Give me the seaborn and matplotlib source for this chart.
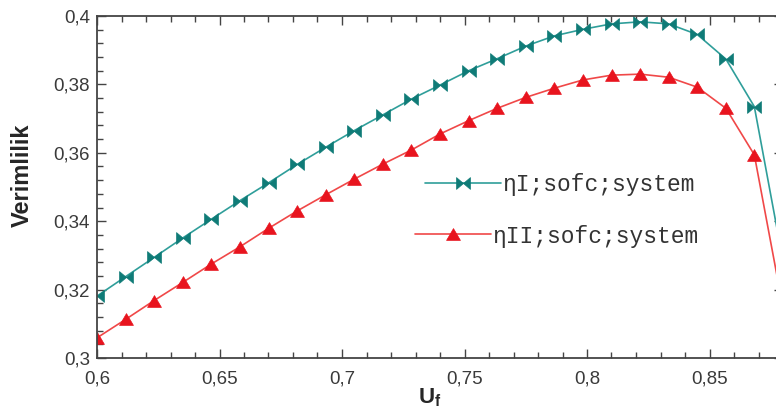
import matplotlib
matplotlib.use("Agg")
import matplotlib.pyplot as plt
from matplotlib.path import Path
from matplotlib.ticker import MultipleLocator, FuncFormatter
import seaborn as sns

# ---- data ----
uf = [0.6, 0.6117, 0.6233, 0.635, 0.6467, 0.6583, 0.67, 0.6817, 0.6933, 0.705,
      0.7167, 0.7283, 0.74, 0.7517, 0.7633, 0.775, 0.7867, 0.7983, 0.81, 0.8217,
      0.8333, 0.845, 0.8567, 0.8683, 0.88]
eta_I = [0.3181, 0.3238, 0.3294, 0.3351, 0.3406, 0.3460, 0.3512, 0.3566, 0.3616, 0.3665,
         0.3711, 0.3757, 0.3798, 0.3840, 0.3875, 0.3912, 0.3942, 0.3961, 0.3977, 0.3983,
         0.3977, 0.3946, 0.3874, 0.3735, 0.3284]
eta_II = [0.3059, 0.3113, 0.3168, 0.3221, 0.3275, 0.3325, 0.3379, 0.3430, 0.3477, 0.3523,
          0.3567, 0.3608, 0.3655, 0.3694, 0.3730, 0.3762, 0.3789, 0.3813, 0.3827, 0.3830,
          0.3821, 0.3792, 0.3730, 0.3594, 0.3147]
label_I = "\u03b7I;sofc;system"
label_II = "\u03b7II;sofc;system"
x_label = r"$\mathbf{U_f}$"
y_label = "Verimlilik"

sns.set_style("ticks", {"xtick.direction": "in", "ytick.direction": "in"})
plt.rcParams["font.family"] = ["Liberation Sans", "DejaVu Sans"]
plt.rcParams["mathtext.fontset"] = "custom"
plt.rcParams["mathtext.rm"] = "Liberation Sans"
plt.rcParams["mathtext.bf"] = "Liberation Sans:bold"
plt.rcParams["mathtext.it"] = "Liberation Sans:italic"

fig = plt.figure(figsize=(7.76, 4.09), dpi=100)
ax = fig.add_axes([97 / 776, 51 / 409, 686 / 776, 342 / 409])

bowtie = Path([(-1, 0.85), (0, 0), (1, 0.85), (1, -0.85), (0, 0), (-1, -0.85), (-1, 0.85)],
              [Path.MOVETO, Path.LINETO, Path.LINETO, Path.LINETO, Path.LINETO, Path.LINETO,
               Path.CLOSEPOLY])
tri = Path([(0, 0.85), (-1, -0.85), (1, -0.85), (0, 0.85)],
           [Path.MOVETO, Path.LINETO, Path.LINETO, Path.CLOSEPOLY])

teal_line = "#2f9e9a"
teal_mark = "#0f7b77"
red_line = "#f04848"
red_mark = "#e8141e"

sns.lineplot(x=uf, y=eta_I, ax=ax, color=teal_line, lw=1.2, marker=bowtie, markersize=10,
             markerfacecolor=teal_mark, markeredgecolor=teal_mark, markeredgewidth=0.5,
             label=label_I, legend=False)
sns.lineplot(x=uf, y=eta_II, ax=ax, color=red_line, lw=1.2, marker=tri, markersize=10,
             markerfacecolor=red_mark, markeredgecolor=red_mark, markeredgewidth=0.5,
             label=label_II, legend=False)

ax.set_xlim(0.6, 0.88)
ax.set_ylim(0.3, 0.4)
ax.xaxis.set_major_locator(MultipleLocator(0.05))
ax.xaxis.set_minor_locator(MultipleLocator(0.01))
ax.yaxis.set_major_locator(MultipleLocator(0.02))
ax.yaxis.set_minor_locator(MultipleLocator(0.004))
fmt = FuncFormatter(lambda v, p: f"{v:.10g}".replace(".", ","))
ax.xaxis.set_major_formatter(fmt)
ax.yaxis.set_major_formatter(fmt)

spine_c = "#444444"
for s in ax.spines.values():
    s.set_visible(True)
    s.set_color(spine_c)
    s.set_linewidth(1.3)
ax.tick_params(which="both", direction="in", top=True, right=True, color=spine_c, width=1.0)
ax.tick_params(which="major", length=6.5)
ax.tick_params(which="minor", length=4)
ax.tick_params(axis="x", which="major", pad=9, labelsize=13.5, labelcolor="#3a3a3a")
ax.tick_params(axis="y", which="major", pad=5, labelsize=13.5, labelcolor="#3a3a3a")

ax.set_xlabel(x_label, fontsize=16)
ax.xaxis.set_label_coords(0.485, -0.083)
ax.xaxis.label.set_va("top")
ax.set_ylabel(y_label, fontsize=17, fontweight="bold")
ax.yaxis.set_label_coords((22 - 97) / 686, (358 - 175) / 342)
ax.yaxis.label.set_va("center")
ax.yaxis.label.set_ha("center")

h = ax.get_lines()
leg_kw = dict(frameon=False, loc="center left", borderpad=0, borderaxespad=0,
              handlelength=3.3, handletextpad=0.1,
              prop={"family": ["Liberation Mono", "DejaVu Sans Mono"], "size": 16.5})
leg1 = ax.legend([h[0]], [label_I], bbox_to_anchor=((425 - 97) / 686, (358 - 185) / 342), **leg_kw)
for t in leg1.get_texts():
    t.set_color("#333333")
ax.add_artist(leg1)
leg2 = ax.legend([h[1]], [label_II], bbox_to_anchor=((415 - 97) / 686, (358 - 236) / 342), **leg_kw)
for t in leg2.get_texts():
    t.set_color("#333333")

fig.savefig("out.png", dpi=100)
